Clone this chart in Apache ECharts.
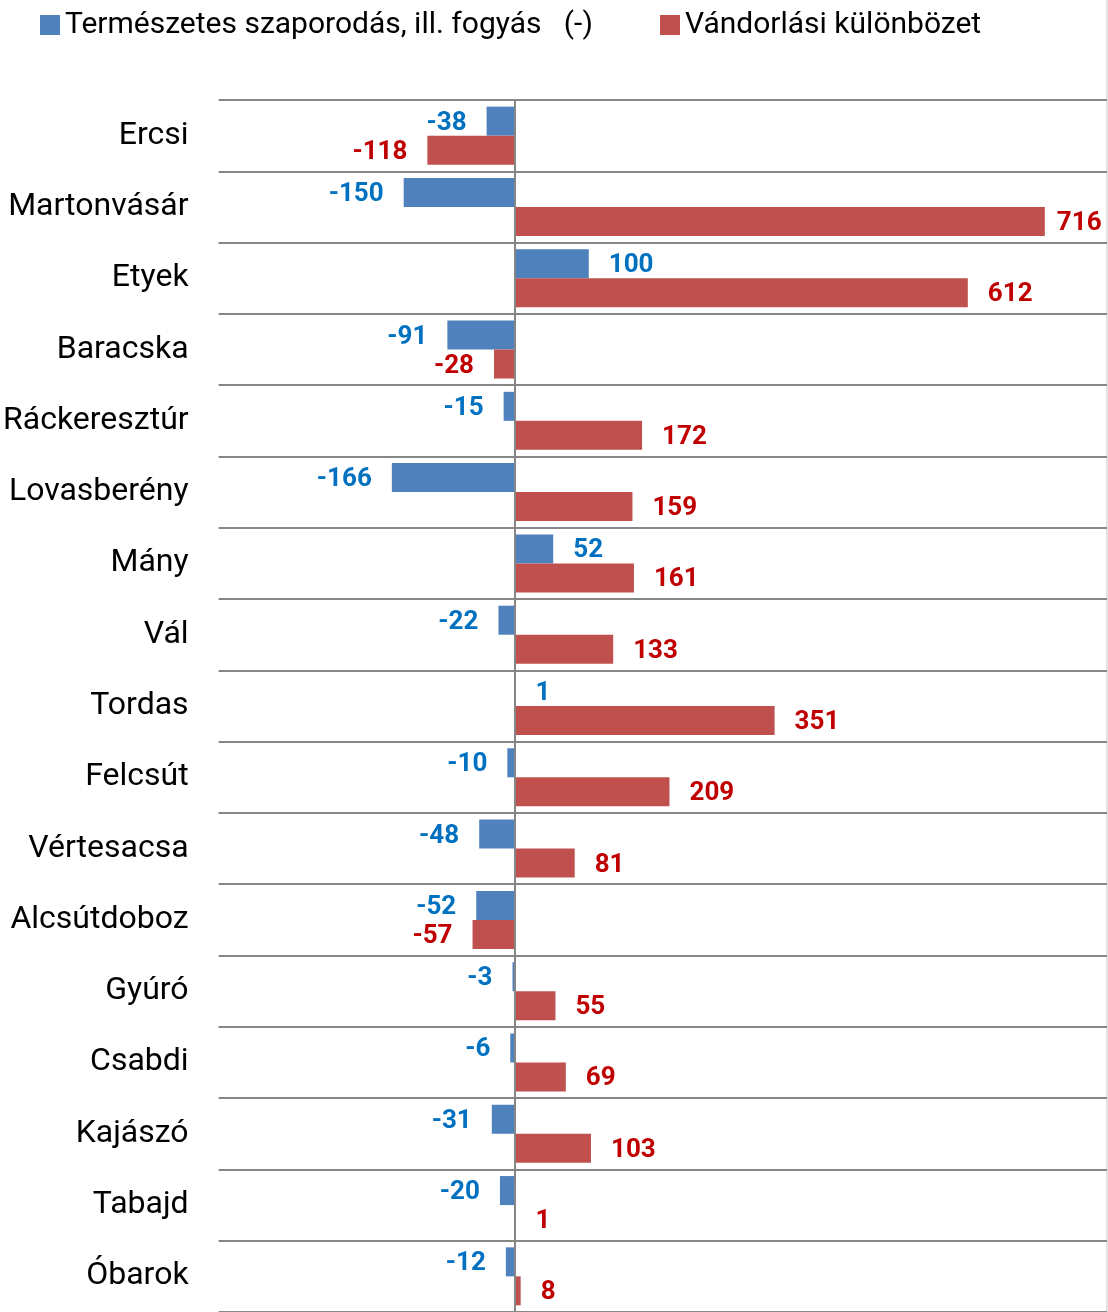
<!DOCTYPE html>
<html><head><meta charset="utf-8">
<script src="https://cdn.jsdelivr.net/npm/echarts@6/dist/echarts.min.js"></script>
<style>html,body{margin:0;padding:0;background:#fff}#c{width:1108px;height:1312px}</style>
</head><body><div id="c"></div>
<script>
const categories = ['Ercsi','Martonvásár','Etyek','Baracska','Ráckeresztúr','Lovasberény','Mány','Vál','Tordas','Felcsút','Vértesacsa','Alcsútdoboz','Gyúró','Csabdi','Kajászó','Tabajd','Óbarok'];
const naturalChange = [-38,-150,100,-91,-15,-166,52,-22,1,-10,-48,-52,-3,-6,-31,-20,-12];
const migration = [-118,716,612,-28,172,159,161,133,351,209,81,-57,55,69,103,1,8];
const seriesNames = ['Természetes szaporodás, ill. fogyás   (-)','Vándorlási különbözet'];
const valueMin = -400, valueMax = 800;

const textFont = "Roboto, sans-serif";

function barData(values){
  return values.map(v => ({
    value: v,
    label: { position: v < 0 ? 'left' : 'right', distance: v > 700 ? 12 : 20 }
  }));
}

const chart = echarts.init(document.getElementById('c'), null, {renderer:'canvas'});
chart.setOption({
  animation: false,
  backgroundColor: '#fff',
  textStyle: { fontFamily: textFont },
  graphic: [
    { type: 'line', silent: true, z: 0, shape: { x1: 1107, y1: 0, x2: 1107, y2: 1312 },
      style: { stroke: '#e3e3e3', lineWidth: 2 } }
  ],
  legend: [
    { data: [seriesNames[0]], left: 35, top: 5, icon: 'rect', itemWidth: 20, itemHeight: 20, itemGap: 6,
      textStyle: { fontSize: 30, color: '#000', fontFamily: textFont } },
    { data: [seriesNames[1]], left: 655, top: 5, icon: 'rect', itemWidth: 20, itemHeight: 20,
      textStyle: { fontSize: 30, color: '#000', fontFamily: textFont } }
  ],
  grid: { left: 216, top: 100, width: 891, height: 1215, containLabel: false },
  xAxis: { type: 'value', min: valueMin, max: valueMax, show: false },
  yAxis: {
    type: 'category', data: categories, inverse: true,
    axisLine: { show: false, onZero: false },
    axisTick: { show: false },
    axisLabel: { fontSize: 32, color: '#000', margin: 30, fontFamily: textFont },
    splitLine: { show: true, lineStyle: { color: '#868686', width: 2 } }
  },
  series: [
    { name: seriesNames[0], type: 'bar', data: barData(naturalChange), barWidth: 29, barGap: '0%',
      itemStyle: { color: '#4F81BD' },
      label: { show: true, fontSize: 26, fontWeight: 'bold', color: '#0070C0', fontFamily: textFont, offset: [0, 2] },
      markLine: { silent: true, symbol: 'none', label: { show: false },
        lineStyle: { color: '#868686', width: 2, type: 'solid' }, data: [{ xAxis: 0 }] }
    },
    { name: seriesNames[1], type: 'bar', data: barData(migration), barWidth: 29, barGap: '0%',
      itemStyle: { color: '#C0504D' },
      label: { show: true, fontSize: 26, fontWeight: 'bold', color: '#C00000', fontFamily: textFont, offset: [0, 2] }
    }
  ]
});
</script></body></html>
